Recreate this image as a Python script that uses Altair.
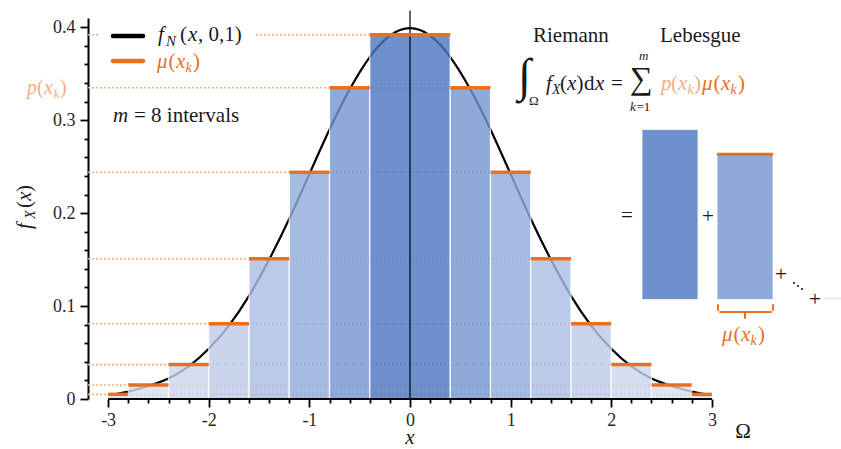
import altair as alt
import pandas as pd

# ---------------------------------------------------------------- data
# partition of [-3, 3] used for the step approximation
bin_edges = [-3.0, -2.8, -2.4, -2.0, -1.6, -1.2, -0.8, -0.4, 0.4, 0.8, 1.2, 1.6, 2.0, 2.4, 2.8, 3.0]
bin_level = [7, 6, 5, 4, 3, 2, 1, 0, 1, 2, 3, 4, 5, 6, 7]
# height p(x_k) of each of the m = 8 levels
p_level = [0.392, 0.335, 0.244, 0.151, 0.081, 0.037, 0.015, 0.005]
# right end of the right-hand bar belonging to each level
level_right_end = [0.4, 0.8, 1.2, 1.6, 2.0, 2.4, 2.8, 3.0]

# standard normal density f_N(x, 0, 1)
curve_x = [-3.0, -2.8, -2.6, -2.4, -2.2, -2.0, -1.8, -1.6, -1.4, -1.2, -1.0,
           -0.8, -0.6, -0.4, -0.2, 0.0, 0.2, 0.4, 0.6, 0.8, 1.0,
           1.2, 1.4, 1.6, 1.8, 2.0, 2.2, 2.4, 2.6, 2.8, 3.0]
curve_y = [0.004, 0.008, 0.014, 0.022, 0.035, 0.054, 0.079, 0.111, 0.150, 0.194, 0.242,
           0.290, 0.333, 0.368, 0.391, 0.399, 0.391, 0.368, 0.333, 0.290, 0.242,
           0.194, 0.150, 0.111, 0.079, 0.054, 0.035, 0.022, 0.014, 0.008, 0.004]

x_ticks = [round(-3 + 0.2 * i, 1) for i in range(31)]
y_ticks = [round(0.02 * i, 2) for i in range(21)]

# ---------------------------------------------------------------- style
SERIF = "Liberation Serif"
INK = "#1a1a1a"
ORANGE = "#e9701e"
LIGHT = "#f3ae82"
BAR_OPACITY = 0.8
bar_colors = ["#4a76c3", "#7296d3", "#91abdc", "#abbee4",
              "#bccbe9", "#cbd6ee", "#d6dff1", "#dfe5f4"]
FS = 21      # body text size
SUB = 14     # subscript size

W, H = 644, 381
PAD = {"left": 88, "top": 18, "right": 109, "bottom": 50}

xs = alt.Scale(domain=[-3.2, 3.2], nice=False, zero=False)
ys = alt.Scale(domain=[0, 0.41], nice=False, zero=False)

MAJ_X = "abs(datum.value - round(datum.value)) < 1e-6"
MAJ_Y = "abs(datum.value * 10 - round(datum.value * 10)) < 1e-6"

x_axis = alt.Axis(values=x_ticks, domain=False, grid=False, title=None,
                  tickColor="black", tickWidth=1.8,
                  tickSize={"condition": {"test": MAJ_X, "value": 8}, "value": 4},
                  labelExpr=f"({MAJ_X}) ? '' + datum.value : ''",
                  labelOverlap=False, labelFlush=False,
                  labelFont=SERIF, labelFontSize=18, labelColor="#262626",
                  labelPadding=4)
y_axis = alt.Axis(values=y_ticks, domain=True, domainColor="black", domainWidth=2,
                  grid=False, title=None, tickColor="black", tickWidth=1.8,
                  tickSize={"condition": {"test": MAJ_Y, "value": 8}, "value": 4},
                  labelExpr=f"({MAJ_Y}) ? format(datum.value, '.1~f') : ''",
                  labelOverlap=False, labelFlush=False,
                  labelFont=SERIF, labelFontSize=18, labelColor="#262626",
                  labelPadding=5)


def X(field):
    return alt.X(field, scale=xs, axis=x_axis)


def Y(field):
    return alt.Y(field, scale=ys, axis=y_axis)


# ---------------------------------------------------------------- tables
bars = pd.DataFrame({
    "x0": bin_edges[:-1],
    "x1": bin_edges[1:],
    "lev": bin_level,
    "p": [p_level[k] for k in bin_level],
    "base": 0.0,
})
levels = pd.DataFrame({
    "p": p_level,
    "x0": -3.2,
    "x1": level_right_end,
})
curve = pd.DataFrame({"x": curve_x, "y": curve_y})

color_enc = alt.Color("lev:O", scale=alt.Scale(domain=list(range(8)), range=bar_colors),
                      legend=None)

rects = alt.Chart(bars).mark_rect(opacity=BAR_OPACITY, stroke="white", strokeWidth=1.2).encode(
    x=X("x0:Q"), x2="x1:Q", y=Y("p:Q"), y2="base:Q", color=color_enc)

dotted = alt.Chart(levels).mark_rule(color=LIGHT, strokeWidth=1.6, strokeDash=[2, 2]).encode(
    x=X("x0:Q"), x2="x1:Q", y=Y("p:Q"))

density = alt.Chart(curve).mark_line(color="black", strokeWidth=2.2, interpolate="natural").encode(
    x=X("x:Q"), y=Y("y:Q"))

zero_line = alt.Chart(pd.DataFrame({"x": [0.0], "y0": [0.0], "y1": [0.418]})).mark_rule(
    color="black", strokeWidth=1.2).encode(x=X("x:Q"), y=Y("y0:Q"), y2="y1:Q")

tops = alt.Chart(bars).mark_rule(color=ORANGE, strokeWidth=3.5).encode(
    x=X("x0:Q"), x2="x1:Q", y=Y("p:Q"))

x_line = alt.Chart(pd.DataFrame({"a": [min(x_ticks)], "b": [max(x_ticks)], "y": [0.0]})).mark_rule(
    color="black", strokeWidth=2).encode(x=X("a:Q"), x2="b:Q", y=Y("y:Q"))

layers = [dotted, density, rects, zero_line, tops, x_line]


# ---------------------------------------------------------------- annotations
def px(v):
    return alt.value(v - PAD["left"])


def py(v):
    return alt.value(v - PAD["top"])


def txt(s, x, y, size=FS, italic=False, color=INK, angle=0, align="left"):
    kw = dict(font=SERIF, fontSize=size, color=color, align=align, baseline="alphabetic")
    if italic:
        kw["fontStyle"] = "italic"
    if angle:
        kw["angle"] = angle
    return alt.Chart(pd.DataFrame({"t": [s]})).mark_text(**kw).encode(
        text="t:N", x=px(x), y=py(y))


def seg(x1, y1, x2, y2, color, width):
    return alt.Chart(pd.DataFrame({"d": [0]})).mark_rule(
        color=color, strokeWidth=width, strokeCap="round").encode(
        x=px(x1), x2=px(x2), y=py(y1), y2=py(y2))


def mu_xk(x, y, color, size=FS, sub=SUB):
    return [txt("\u03bc", x, y, size, True, color),
            txt("(", x + 11.5, y, size, False, color),
            txt("x", x + 19, y, size, True, color),
            txt("k", x + 28.5, y + 4, sub, True, color),
            txt(")", x + 36, y, size, False, color)]


def p_xk(x, y, color, size=FS, sub=SUB):
    return [txt("p", x, y, size, True, color),
            txt("(", x + 10, y, size, False, color),
            txt("x", x + 17, y, size, True, color),
            txt("k", x + 26.5, y + 4, sub, True, color),
            txt(")", x + 33, y, size, False, color)]


# legend
legend_bg = alt.Chart(pd.DataFrame({"d": [0]})).mark_rect(color="white").encode(
    x=px(100), x2=px(254), y=py(20), y2=py(76))
layers += [legend_bg,
           seg(113, 36, 143, 36, "black", 4.5),
           seg(113, 61, 143, 61, ORANGE, 4.5),
           txt("f", 158, 41, FS, True),
           txt("N", 166, 46, 15, True),
           txt("(", 180, 41),
           txt("x", 188, 41, FS, True),
           txt(", 0,1)", 198, 41)]
layers += mu_xk(157, 68, ORANGE)

layers += [txt("m", 113, 122, FS, True), txt("= 8 intervals", 134, 122)]

# p(x_k) marker next to the y axis
layers += p_xk(27, 94, LIGHT, 20, 13)

# y-axis title f_X(x), rotated
layers += [txt("f", 31, 229, FS, True, angle=270),
           txt("X", 35, 219, SUB, True, angle=270),
           txt("(", 31, 208, FS, angle=270),
           txt("x", 31, 201, FS, True, angle=270),
           txt(")", 31, 192, FS, angle=270)]
# x-axis title and sample space
layers += [txt("x", 410, 444, FS, True, align="center"),
           txt("\u03a9", 743, 438, 21, align="center")]

# Riemann = Lebesgue
layers += [txt("Riemann", 533, 42), txt("Lebesgue", 660, 42),
           txt("\u222b", 518, 91, 47),
           txt("\u03a9", 529, 105, 13),
           txt("f", 546, 90, FS, True),
           txt("X", 552, 94, SUB, True),
           txt("(", 560, 90), txt("x", 567, 90, FS, True), txt(")", 576.5, 90),
           txt("d", 584, 90), txt("x", 595, 90, FS, True),
           txt("=", 611, 90),
           txt("\u2211", 630, 89, 32),
           txt("m", 639, 60, 13, True),
           txt("k", 630, 111, 13, True), txt("=1", 636.5, 111, 13)]
layers += p_xk(661, 90, LIGHT)
layers += mu_xk(702, 90, ORANGE)

# the sum drawn as boxes: height proportional to p(x_k)
BOX_BASE, BOX_SCALE = 0.107, 0.467
boxes = pd.DataFrame({
    "x0": [642, 717, 823],
    "x1": [698, 773, 879],
    "lev": [0, 1, 7],
})
boxes["top"] = [BOX_BASE + BOX_SCALE * p_level[k] for k in boxes["lev"]]
boxes["base"] = BOX_BASE
for _, r in boxes.iterrows():
    one = pd.DataFrame([r])
    edge = 0.8 if r["lev"] < 7 else 0
    layers.append(alt.Chart(one).mark_rect(opacity=BAR_OPACITY, stroke="white", strokeWidth=edge).encode(
        x=px(r["x0"]), x2=px(r["x1"]), y=Y("top:Q"), y2="base:Q", color=color_enc))
second = pd.DataFrame([boxes.iloc[1]])
layers.append(alt.Chart(second).mark_rule(color=ORANGE, strokeWidth=3).encode(
    x=px(717), x2=px(773), y=Y("top:Q")))

layers += [txt("=", 627, 222, FS, align="center"),
           txt("+", 708, 223, 22, align="center"),
           txt("+", 781, 281, 22, align="center"),
           txt("+", 815, 306, 22, align="center")]
for dx, dy in [(794, 283), (798, 286), (802, 289)]:
    layers.append(alt.Chart(pd.DataFrame({"d": [0]})).mark_circle(color=INK, size=5, opacity=1).encode(
        x=px(dx), y=py(dy)))

# brace under the second box
layers += [seg(718, 305, 718, 310, ORANGE, 2),
           seg(720, 312, 771, 312, ORANGE, 2),
           seg(773, 305, 773, 310, ORANGE, 2),
           seg(745, 312, 745, 318, ORANGE, 2)]
layers += mu_xk(722, 341, ORANGE)

chart = alt.layer(*layers).properties(
    width=W, height=H,
    autosize=alt.AutoSizeParams(type="none"),
    padding=PAD,
    background="white",
).configure_view(stroke=None)

chart.save("out.html", embed_options={"renderer": "svg", "actions": False})
